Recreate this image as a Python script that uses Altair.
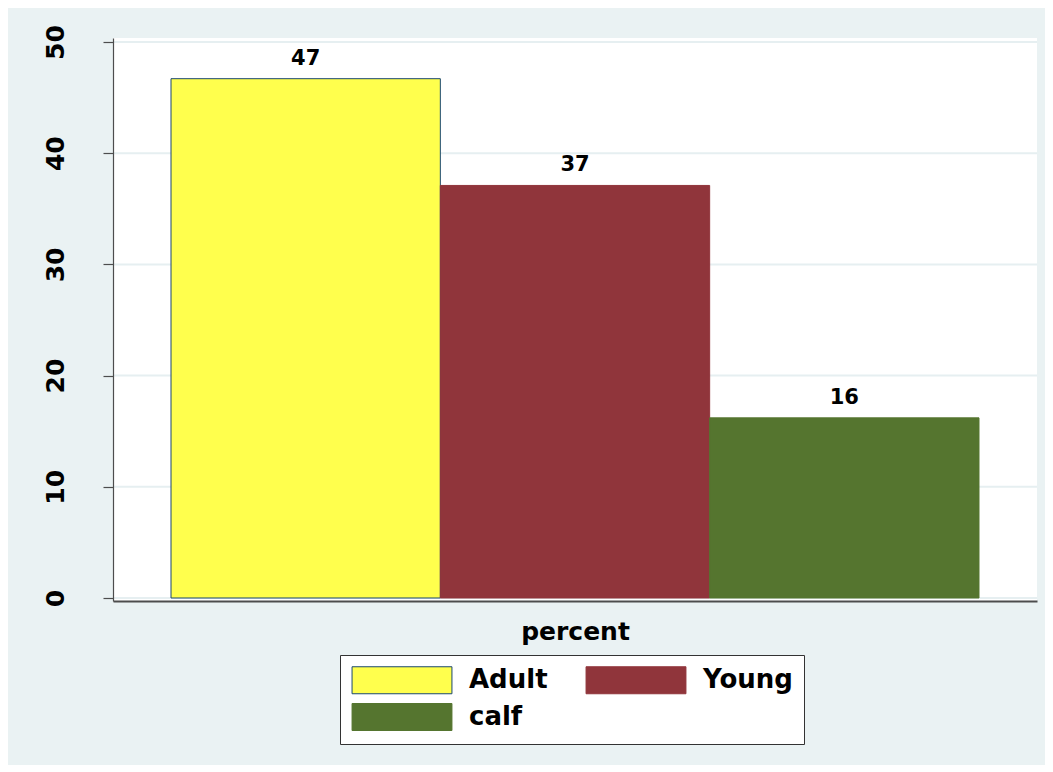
import altair as alt
import pandas as pd

groups = ["Adult", "Young", "calf"]
percents = [46.7, 37.1, 16.2]
fill_colors = ["#FFFF4D", "#90353B", "#55752F"]
stroke_colors = ["#1A476F", "#90353B", "#55752F"]
y_ticks = [0, 10, 20, 30, 40, 50]

df = pd.DataFrame({"group": groups, "percent": percents})
grid_df = pd.DataFrame({"tick": y_ticks})

FONT = "DejaVu Sans"
W, H = 924, 563
Y_SCALE = alt.Scale(domain=[-0.27, 50.36], nice=False, zero=False)

# outer light background panel (graph region) and white plot region
graph_region = alt.Chart(grid_df).mark_rect(color="#EAF2F3").encode(
    x=alt.value(-105), x2=alt.value(W + 8), y=alt.value(-30), y2=alt.value(H + 164)
)
plot_region = alt.Chart(grid_df).mark_rect(color="white").encode(
    x=alt.value(0), x2=alt.value(W), y=alt.value(0), y2=alt.value(H)
)
grid = alt.Chart(grid_df).mark_rule(color="#E6EFF1", strokeWidth=2).encode(
    y=alt.Y("tick:Q", scale=Y_SCALE)
)

x_enc = alt.X(
    "group:N",
    sort=groups,
    scale=alt.Scale(paddingInner=0, paddingOuter=0.2154),
    axis=alt.Axis(
        title="percent", labels=False, ticks=False, grid=False, zindex=1,
        domainColor="#4d4d4d", domainWidth=2,
        titleFont=FONT, titleFontSize=25, titleFontWeight="bold",
        titleColor="black", titlePadding=18,
    ),
)
y_enc = alt.Y(
    "percent:Q",
    scale=Y_SCALE,
    axis=alt.Axis(
        title=None, values=y_ticks, grid=False, zindex=1,
        domainColor="#4d4d4d", domainWidth=1.2, tickColor="#4d4d4d", tickSize=10,
        tickWidth=1.2, labelAngle=270, labelAlign="center", labelBaseline="alphabetic",
        labelPadding=40, labelFont=FONT, labelFontSize=25, labelFontWeight="bold",
        labelColor="black",
    ),
)

legend = alt.Legend(
    title=None, orient="none", legendX=227, legendY=617, columns=2,
    direction="horizontal",
    symbolType="M-3.7,-1H3.7V1H-3.7Z", symbolSize=729, symbolStrokeWidth=1,
    symbolOffset=37, labelOffset=53,
    labelFont=FONT, labelFontSize=26, labelFontWeight="bold", labelColor="black",
    columnPadding=36, rowPadding=5, padding=11,
    fillColor="white", strokeColor="#333333", symbolOpacity=1,
)

bars = alt.Chart(df).mark_bar(strokeWidth=1, opacity=1).encode(
    x=x_enc,
    y=y_enc,
    fill=alt.Fill("group:N", sort=groups,
                  scale=alt.Scale(domain=groups, range=fill_colors), legend=legend),
    stroke=alt.Stroke("group:N", sort=groups,
                      scale=alt.Scale(domain=groups, range=stroke_colors), legend=legend),
)

labels = alt.Chart(df).mark_text(
    font=FONT, fontSize=21, fontWeight="bold", color="black",
    baseline="alphabetic", dy=-14,
).encode(
    x=alt.X("group:N", sort=groups),
    y=alt.Y("percent:Q"),
    text=alt.Text("percent:Q", format=".0f"),
)

chart = alt.layer(graph_region, plot_region, grid, bars, labels).properties(
    width=W, height=H,
    background="white",
    padding={"left": 113, "top": 38, "right": 16, "bottom": 171},
    autosize=alt.AutoSizeParams(type="none"),
).configure_view(
    fill=None, stroke=None,
)

chart.save("out.html", embed_options={"renderer": "svg", "actions": False})
